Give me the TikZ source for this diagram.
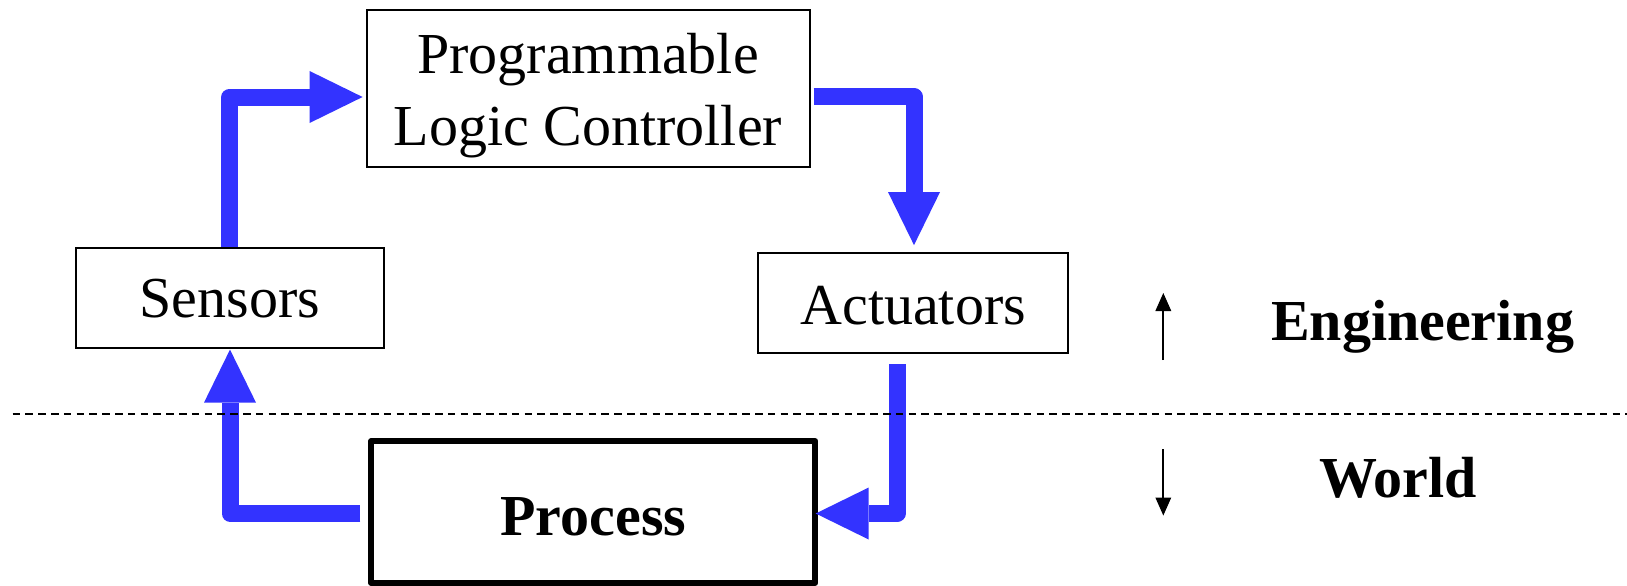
\documentclass[tikz,border=0pt]{standalone}
\usepackage{fontspec}
\setmainfont{Liberation Serif}
\usetikzlibrary{arrows.meta,calc}
\definecolor{flowblue}{RGB}{51,51,255}
\begin{document}
\begin{tikzpicture}[x=1pt,y=-1pt,
  box/.style={draw=black, line width=1.8pt, inner sep=0pt, fill=white},
  lbl/.style={font=\fontsize{58}{71.7}\selectfont, inner sep=0pt},
  blbl/.style={font=\fontsize{58}{71.7}\selectfont\bfseries, inner sep=0pt},
  flow/.style={draw=flowblue, line width=17pt, line join=round,
    -{Triangle[length=53pt,width=52pt,line width=0pt]}},
  dirarrow/.style={draw=black, line width=1.8pt,
    -{Triangle[length=18pt,width=16pt,line width=0pt]}},
  divider/.style={draw=black, line width=2.3pt, dash pattern=on 7.5pt off 5.3pt}
]
\useasboundingbox (0,0) rectangle (1627,586);

% boxes
\node[box, minimum width=443pt, minimum height=157pt] (plc) at (588.4,88.8) {};
\node[lbl, anchor=base] (plcA) at (588,74) {Programmable};
\node[lbl, anchor=base] (plcB) at (588,145.7) {Logic Controller};

\node[box, lbl, minimum width=308pt, minimum height=100pt,
      text height=39.6pt, text depth=0pt] (sen) at (229.9,297.7) {Sensors};
\node[box, lbl, minimum width=310pt, minimum height=100pt,
      text height=42pt, text depth=0pt] (act) at (913.2,303) {Actuators};
\node[box, blbl, line width=6pt, line join=round, minimum width=444pt, minimum height=141.7pt,
      text height=46pt, text depth=0pt] (proc) at (593.3,512) {Process};

% flow arrows
\draw[flow] (sen.north) |- ($(plc.west)+(-3.4,8.2)$);
\draw[flow] ($(plc.east)+(2.7,7.9)$) -| ($(act.north)+(0.8,-7)$);
\draw[flow] ($(act.south)+(-16.2,10.3)$) |- ($(proc.east)+(-2.6,1.5)$);
\draw[flow] ($(proc.west)+(-8,1.5)$) -| ($(sen.south)+(0.1,1)$);

% divider
\coordinate (dl0) at (12.6,414);
\coordinate (dl1) at (1627,414);
\draw[divider] (dl0) -- (dl1);

% direction labels
\coordinate (eu0) at (1163.3,360);
\coordinate (eu1) at (1163.3,293);
\coordinate (wd0) at (1163.3,449);
\coordinate (wd1) at (1163.3,515.5);
\draw[dirarrow] (eu0) -- (eu1);
\draw[dirarrow] (wd0) -- (wd1);
\node[blbl, anchor=base] (eng) at (1422.6,340) {Engineering};
\node[blbl, anchor=base] (world) at (1398,497) {World};
\end{tikzpicture}
\end{document}
